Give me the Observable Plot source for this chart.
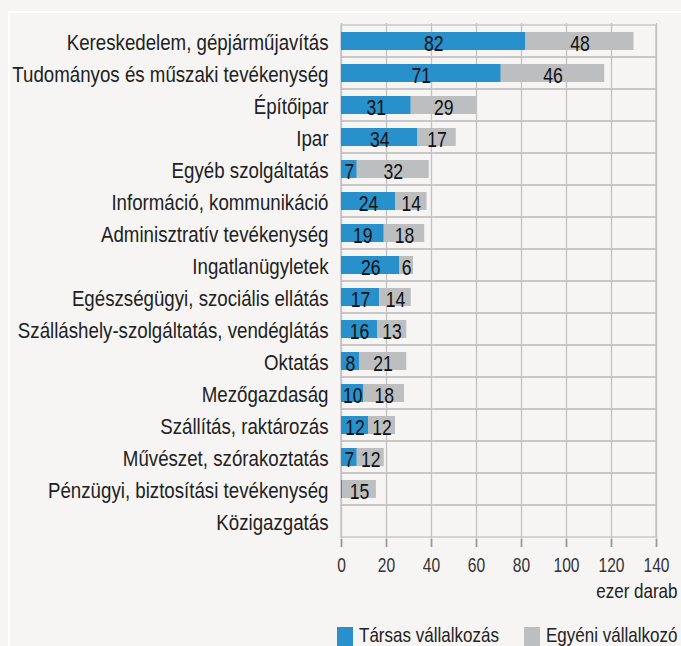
<!DOCTYPE html>
<html>
<head>
<meta charset="utf-8">
<script src="https://cdn.jsdelivr.net/npm/d3@7"></script>
<script src="https://cdn.jsdelivr.net/npm/@observablehq/plot@0.6"></script>
<style>
  html, body { margin: 0; padding: 0; background: #f6f5f4; width: 681px; height: 646px; overflow: hidden; }
  #frame { position: absolute; left: 8px; top: 11px; width: 700px; height: 700px; border-left: 2px solid #fff; border-top: 2px solid #fff; }
  #chart { position: absolute; left: 0; top: 0; }
  #legend { position: absolute; top: 627px; left: 337px; font-family: "Liberation Sans", Arial, sans-serif; font-size: 21px; color: #222; white-space: nowrap; }
  .item { position: absolute; top: 0; height: 19px; }
  .sw { position: absolute; left: 0; top: 0; width: 16px; height: 19px; }
  .lt { position: absolute; left: 22px; top: -3px; transform: scaleX(0.81); transform-origin: 0 0; line-height: 21px; }
</style>
</head>
<body>
<div id="frame"></div>
<div id="chart"></div>
<div id="legend"></div>
<script>
const categories = [
  "Kereskedelem, gépjárműjavítás",
  "Tudományos és műszaki tevékenység",
  "Építőipar",
  "Ipar",
  "Egyéb szolgáltatás",
  "Információ, kommunikáció",
  "Adminisztratív tevékenység",
  "Ingatlanügyletek",
  "Egészségügyi, szociális ellátás",
  "Szálláshely-szolgáltatás, vendéglátás",
  "Oktatás",
  "Mezőgazdaság",
  "Szállítás, raktározás",
  "Művészet, szórakoztatás",
  "Pénzügyi, biztosítási tevékenység",
  "Közigazgatás"
];
const tarsas = [82, 71, 31, 34, 7, 24, 19, 26, 17, 16, 8, 10, 12, 7, 0.5, 0];
const egyeni = [48, 46, 29, 17, 32, 14, 18, 6, 14, 13, 21, 18, 12, 12, 15, 0];
const seriesNames = ["Társas vállalkozás", "Egyéni vállalkozó"];
const seriesColors = ["#2890cb", "#bcbec0"];
const xTicks = [0, 20, 40, 60, 80, 100, 120, 140];
const unitLabel = "ezer darab";

const data = [];
categories.forEach((c, i) => {
  data.push({cat: c, series: seriesNames[0], value: tarsas[i]});
  data.push({cat: c, series: seriesNames[1], value: egyeni[i]});
});

const font = '"Liberation Sans", Arial, sans-serif';
const gridColor = "#c2c2c2";

const chart = Plot.plot({
  width: 681,
  height: 610,
  marginLeft: 341,
  marginRight: 25,
  marginTop: 23,
  marginBottom: 71,
  style: {fontFamily: font, fontSize: "20px", color: "#222", background: "transparent"},
  x: {domain: [0, 140], ticks: xTicks},
  y: {domain: categories, padding: 0},
  color: {domain: seriesNames, range: seriesColors},
  marks: [
    Plot.ruleX(xTicks, {x: d => d, stroke: gridColor, strokeWidth: 1.3}),
    Plot.barX(categories, {x1: 0, x2: 140, y: d => d, fill: "none", stroke: gridColor, strokeWidth: 1.3}),
    Plot.barX(data, Plot.stackX({x: "value", y: "cat", fill: "series", insetTop: 7, insetBottom: 7})),
    Plot.text(data, Plot.stackX({x: "value", y: "cat", z: "series",
      text: d => d.value >= 1 ? String(d.value) : "",
      fontSize: 22, fill: "#111", dy: 2, className: "vlab"})),
    Plot.axisY({tickSize: 0, tickPadding: 13, fontSize: 22, dy: 1, label: null, fill: "#222", className: "ylab"}),
    Plot.axisX({ticks: xTicks, tickSize: 8, tickPadding: 10, stroke: "#9a9a9a", strokeWidth: 1.8, fontSize: 20, label: null, fill: "#333", className: "xlab"}),
    Plot.text([unitLabel], {frameAnchor: "bottom-right", text: d => d, dx: 21, dy: 58, fontSize: 21, fill: "#222", textAnchor: "end", className: "ulab"})
  ]
});

// condensed look: compress text horizontally around each anchor
function narrowText(selector, s) {
  chart.querySelectorAll(selector).forEach(t => {
    const tr = t.getAttribute("transform");
    if (tr) {
      t.setAttribute("transform", tr + ` scale(${s},1)`);
    } else {
      const x = +t.getAttribute("x") || 0;
      t.setAttribute("transform", `translate(${x},0) scale(${s},1) translate(${-x},0)`);
    }
    t.dataset.done = "1";
  });
}
narrowText(".vlab text", 0.8);
narrowText(".ylab text", 0.85);
narrowText(".xlab text", 0.78);
narrowText(".ulab text", 0.81);
narrowText("text:not([data-done])", 0.82);
document.getElementById("chart").appendChild(chart);

const legend = document.getElementById("legend");
const offsets = [0, 187];
seriesNames.forEach((s, i) => {
  const it = document.createElement("div");
  it.className = "item";
  it.style.left = offsets[i] + "px";
  const sw = document.createElement("span");
  sw.className = "sw";
  sw.style.background = seriesColors[i];
  const t = document.createElement("span");
  t.className = "lt";
  t.textContent = s;
  it.appendChild(sw);
  it.appendChild(t);
  legend.appendChild(it);
});
</script>
</body>
</html>
